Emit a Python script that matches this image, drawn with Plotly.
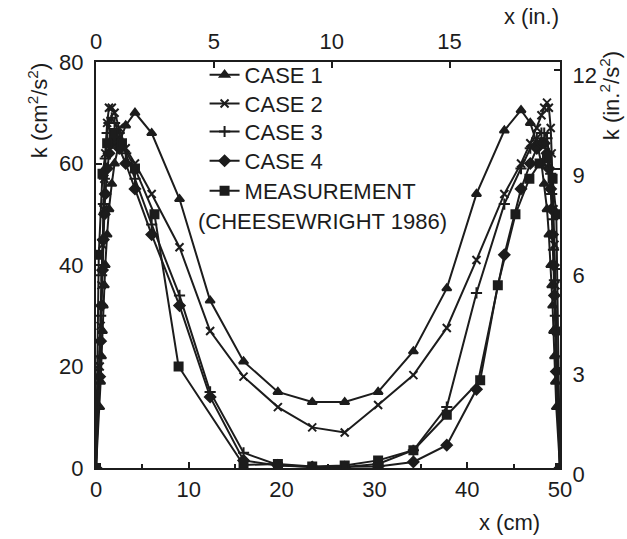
import plotly.graph_objects as go

# ---------------- data (x in cm, k in cm^2/s^2) ----------------
grid_x = [0, 0.4, 0.5, 0.6, 0.7, 0.8, 0.9, 1.0, 1.2, 1.4, 1.7, 2.0, 2.5, 3.2, 4.2,
          6.0, 9.0, 12.3, 15.9, 19.6, 23.3, 26.8, 30.4, 34.2, 37.8, 41.0, 44.0,
          45.8, 46.8, 47.5, 48.0, 48.3, 48.6, 48.8, 49.0, 49.1, 49.2, 49.3, 49.4,
          49.5, 49.6, 50]

case1_k = [0, 12, 17, 22, 27, 32, 36, 40, 46, 51, 56, 60, 64, 67.5, 70,
           66, 53, 33, 21, 15, 13, 13, 15, 23, 35.4, 54, 66.5,
           70.5, 68, 64, 60, 56, 51, 46, 40, 36, 32, 27, 22,
           17, 12, 0]

case2_k = [0, 20, 28, 36, 44, 51, 57, 62, 68, 71, 71, 70, 67, 63, 60,
           54, 43.5, 27, 18, 12, 8, 7, 12.4, 18.3, 27.6, 41, 54,
           60, 64, 67, 69.5, 71, 72, 71, 67, 62, 57, 51, 44,
           36, 27, 0]

case3_k = [0, 22, 30, 38, 45, 52, 57, 61, 66, 68, 69, 68, 66, 62, 57,
           48, 34, 15, 3, 0.6, 0.2, 0.2, 0.8, 3.5, 12, 34.5, 52,
           59, 63, 65, 66, 66, 65, 62, 58, 54, 49, 43, 37,
           30, 22, 0]

case4_k = [0, 18, 25, 32, 39, 45, 50, 54, 59, 62, 64, 65, 63, 60, 55,
           46, 32, 14, 1.5, 0.5, 0.2, 0.2, 0.3, 1.2, 4.5, 15.5, 42,
           55, 60, 63, 64, 64, 62, 59, 55, 51, 46, 40, 34,
           27, 19, 0]

meas_x = [0, 0.3, 0.7, 1.2, 1.9, 2.8, 4.2, 6.3, 8.9, 15.9, 19.6, 23.3, 26.8,
          30.4, 34.2, 37.8, 41.4, 43.3, 45.2, 46.7, 47.8, 48.6, 49.2, 49.6, 50]
meas_k = [0, 42, 58, 64, 66, 64, 59, 50, 20, 0.6, 0.8, 0.3, 0.5,
          1.5, 3.5, 10.5, 17.3, 36, 50, 57, 60, 61, 57, 50, 0]

series_names = ["CASE 1", "CASE 2", "CASE 3", "CASE 4", "MEASUREMENT"]
series_symbols = ["triangle-up", "x-thin", "cross-thin", "diamond", "square"]

x_ticks_cm = [0, 10, 20, 30, 40, 50]
x_ticks_in = [0, 5, 10, 15]
y_ticks_cm = [0, 20, 40, 60, 80]
y_ticks_in = [0, 3, 6, 9, 12]

# ---------------- figure ----------------
INK = "#1c1c1c"
FONT = "Liberation Sans, Arial, sans-serif"
FS = 22

fig = go.Figure()
series = [(grid_x, case1_k), (grid_x, case2_k), (grid_x, case3_k),
          (grid_x, case4_k), (meas_x, meas_k)]
legend_ids = ["legend", "legend2", "legend3", "legend4", "legend5"]
for (xs, ks), name, sym, lid in zip(series, series_names, series_symbols,
                                    legend_ids):
    fig.add_trace(go.Scatter(
        x=xs, y=ks, name=name, mode="lines+markers",
        line=dict(color=INK, width=2),
        marker=dict(symbol=sym, size=8, color=INK,
                    line=dict(color=INK, width=2)),
        legend=lid,
    ))

# invisible trace to carry the secondary (inch) axes
fig.add_trace(go.Scatter(x=[0], y=[0], xaxis="x2", yaxis="y2", mode="markers",
                         marker=dict(opacity=0), showlegend=False,
                         hoverinfo="skip"))

axis_common = dict(showgrid=False, zeroline=False, showline=True,
                   linecolor=INK, linewidth=2, ticks="inside", tickcolor=INK,
                   tickwidth=2, ticklen=6,
                   tickfont=dict(family=FONT, size=FS, color=INK))

# one small legend box per entry so that rows sit 29 px apart
row_tops = [1.02, 0.949, 0.880, 0.808, 0.734]
legend_boxes = {}
for lid, ytop in zip(legend_ids, row_tops):
    legend_boxes[lid] = dict(x=0.234, y=ytop, xanchor="left", yanchor="top",
                             bgcolor="rgba(0,0,0,0)",
                             font=dict(family=FONT, size=FS, color=INK))

fig.update_layout(
    width=627, height=539,
    margin=dict(l=96, r=67, t=62, b=71),
    paper_bgcolor="white", plot_bgcolor="white",
    font=dict(family=FONT, size=FS, color=INK),
    xaxis=dict(range=[0, 50], tickvals=x_ticks_cm, ticklabelstandoff=1,
               minor=dict(tickvals=[5, 15, 25, 35, 45], ticks="inside",
                          ticklen=4, tickcolor=INK, tickwidth=1.5),
               **axis_common),
    yaxis=dict(range=[0, 80], tickvals=y_ticks_cm, ticklabelstandoff=6,
               **axis_common),
    xaxis2=dict(range=[0, 50 / 2.54], tickvals=x_ticks_in, overlaying="x",
                side="top", anchor="y", ticklabelstandoff=2, **axis_common),
    yaxis2=dict(range=[0, 80 / 6.54], tickvals=y_ticks_in, overlaying="y",
                side="right", anchor="x", ticklabelstandoff=6,
                ticklabelshift=6, **axis_common),
    showlegend=True,
    **legend_boxes,
)

annots = [
    dict(text="k (cm<sup>2</sup>/s<sup>2</sup>)", x=-0.125, y=0.879,
         textangle=-90),
    dict(text="k (in.<sup>2</sup>/s<sup>2</sup>)", x=1.108, y=0.916,
         textangle=-90),
    dict(text="x (cm)", x=0.892, y=-0.135),
    dict(text="x (in.)", x=0.9375, y=1.111),
    dict(text="(CHEESEWRIGHT 1986)", x=0.489, y=0.606),
]
for a in annots:
    fig.add_annotation(xref="paper", yref="paper", showarrow=False,
                       xanchor="center", yanchor="middle",
                       font=dict(family=FONT, size=FS, color=INK), **a)

fig.write_html("out.html")
